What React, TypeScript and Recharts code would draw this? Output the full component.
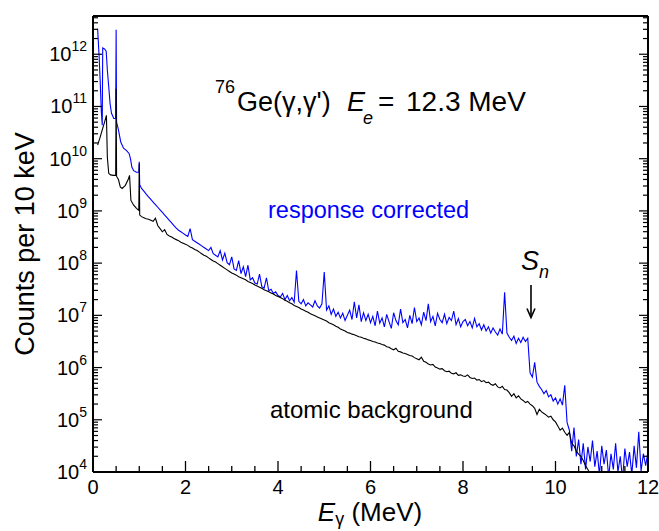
import React from "react";
import { LineChart, Line, XAxis, YAxis, ReferenceLine } from "recharts";

const FONT = '"Liberation Sans", Arial, Helvetica, sans-serif';
const Y_MIN = 1e4;
const Y_MAX = 5.4e12;

// below ~1 MeV the spectra are read point by point: energy (MeV), log10(counts per 10 keV)
const blueLowE = [0.10, 0.13, 0.155, 0.18, 0.2, 0.21, 0.25, 0.285, 0.31, 0.34, 0.37, 0.40, 0.45, 0.49, 0.50, 0.51, 0.55, 0.60, 0.66, 0.72, 0.78, 0.81, 0.84, 0.88, 0.94, 0.99, 1.00, 1.01];
const blueLowLog = [12.49, 12.0, 11.5, 10.9, 10.64, 12.12, 12.1, 12.06, 11.7, 11.38, 11.05, 10.87, 10.77, 10.77, 12.47, 10.7, 10.55, 10.32, 10.2, 10.16, 10.1, 10.0, 9.84, 9.77, 9.74, 9.74, 9.94, 9.5];

const blackLowE = [0.10, 0.15, 0.20, 0.25, 0.29, 0.31, 0.34, 0.38, 0.44, 0.49, 0.50, 0.51, 0.55, 0.59, 0.63, 0.70, 0.76, 0.79, 0.82, 0.88, 0.94, 0.99, 1.00, 1.01];
const blackLowLog = [10.26, 10.4, 10.55, 10.7, 10.83, 10.03, 9.72, 9.69, 9.68, 9.68, 11.34, 9.66, 9.6, 9.46, 9.43, 9.49, 9.6, 9.68, 9.2, 9.11, 9.05, 9.01, 9.91, 8.92];

// above 1 MeV: one value every 50 keV, starting at 1.05 MeV
const binStart = 1.05;
const binWidth = 0.05;

// response corrected, 1.05 .. 12.00 MeV
const blueBinsLog = [
  9.43, 9.38, 9.32, 9.27, 9.22, 9.17, 9.12, 9.07, 9.02, 8.97, 8.92, 8.87, 8.82, 8.77, 8.72, 8.67, 8.63, 8.60, 8.57, 8.54,
  8.51, 8.66, 8.45, 8.42, 8.39, 8.36, 8.33, 8.30, 8.27, 8.24, 8.30, 8.18, 8.15, 8.12, 8.24, 8.06, 8.19, 8.01, 7.97, 8.12,
  7.89, 7.86, 8.05, 7.80, 7.93, 7.74, 7.96, 7.68, 7.72, 7.62, 7.60, 7.79, 7.55, 7.52, 7.72, 7.47, 7.50, 7.42, 7.45, 7.38,
  7.35, 7.42, 7.30, 7.38, 7.28, 7.34, 7.25, 7.86, 7.27, 7.22, 7.30, 7.18, 7.24, 7.20, 7.16, 7.28, 7.18, 7.14, 7.22, 7.83,
  7.10, 7.18, 7.02, 7.12, 6.98, 7.06, 6.95, 7.04, 6.90, 7.00, 7.10, 6.92, 7.26, 6.95, 7.20, 6.88, 7.05, 6.90, 7.02, 6.86,
  6.98, 6.80, 7.08, 6.85, 6.95, 6.78, 7.02, 6.88, 6.75, 7.05, 6.90, 6.82, 7.12, 6.86, 6.92, 6.76, 7.00, 6.84, 7.15, 6.88,
  6.95, 6.82, 7.06, 6.90, 7.22, 6.88, 6.98, 6.80, 7.04, 6.92, 6.86, 7.02, 6.84, 6.96, 6.90, 7.08, 6.82, 6.94, 6.78, 6.88,
  6.92, 6.80, 6.88, 6.76, 6.94, 6.78, 6.84, 6.72, 6.82, 6.70, 6.78, 6.66, 6.76, 6.68, 6.62, 6.74, 6.64, 7.44, 6.66, 6.58,
  6.52, 6.60, 6.46, 6.56, 6.48, 6.58, 6.50, 6.56, 5.90, 5.82, 6.10, 5.72, 5.64, 5.58, 5.50, 5.56, 5.44, 5.48, 5.36, 5.42,
  5.30, 5.40, 5.28, 5.66, 4.95, 4.80, 4.40, 4.85, 4.30, 4.62, 4.15, 4.55, 4.05, 4.48, 4.20, 4.60, 4.10, 4.40, 3.95, 4.50,
  4.15, 4.42, 3.90, 4.35, 4.05, 4.55, 4.00, 4.30, 3.85, 4.45, 4.10, 4.38, 3.95, 4.50, 4.08, 4.77, 4.02, 4.35, 4.12, 4.40,
];

// atomic background, 1.05 .. 11.00 MeV
const blackBinsLog = [
  8.89, 8.87, 8.85, 8.84, 8.82, 8.80, 8.86, 8.72, 8.66, 8.60, 8.64, 8.55, 8.52, 8.50, 8.47, 8.45, 8.43, 8.40, 8.38, 8.36,
  8.34, 8.31, 8.29, 8.26, 8.24, 8.21, 8.18, 8.15, 8.13, 8.10, 8.07, 8.04, 8.02, 7.99, 7.96, 7.93, 7.90, 7.87, 7.84, 7.81,
  7.79, 7.77, 7.74, 7.72, 7.70, 7.68, 7.65, 7.63, 7.61, 7.58, 7.56, 7.54, 7.52, 7.49, 7.47, 7.45, 7.43, 7.41, 7.38, 7.36,
  7.34, 7.32, 7.29, 7.27, 7.24, 7.22, 7.19, 7.17, 7.15, 7.12, 7.10, 7.08, 7.06, 7.03, 7.01, 6.99, 6.97, 6.95, 6.93, 6.91,
  6.89, 6.86, 6.84, 6.82, 6.79, 6.77, 6.74, 6.72, 6.70, 6.67, 6.66, 6.64, 6.63, 6.61, 6.59, 6.58, 6.56, 6.55, 6.53, 6.52,
  6.50, 6.49, 6.47, 6.46, 6.44, 6.43, 6.40, 6.39, 6.36, 6.34, 6.37, 6.31, 6.30, 6.28, 6.27, 6.25, 6.23, 6.22, 6.19, 6.17,
  6.15, 6.20, 6.12, 6.10, 6.07, 6.05, 6.06, 6.01, 5.99, 5.97, 5.98, 5.94, 5.92, 5.93, 5.89, 5.88, 5.90, 5.85, 5.86, 5.84,
  5.83, 5.86, 5.81, 5.79, 5.80, 5.76, 5.77, 5.73, 5.75, 5.71, 5.72, 5.68, 5.66, 5.69, 5.63, 5.61, 5.64, 5.58, 5.57, 5.52,
  5.45, 5.50, 5.42, 5.46, 5.40, 5.37, 5.33, 5.35, 5.30, 5.27, 5.22, 5.10, 5.20, 5.15, 5.12, 5.09, 5.05, 5.07, 5.00, 4.96,
  4.88, 4.80, 4.84, 4.76, 4.70, 4.76, 4.55, 4.50, 4.40, 4.34, 4.30, 4.22, 4.12, 4.05, 3.95, 3.85, 3.75, 3.65, 3.55, 3.45,
];

// axis ticks
const xTicks = [0, 0.5, 1, 1.5, 2, 2.5, 3, 3.5, 4, 4.5, 5, 5.5, 6, 6.5, 7, 7.5, 8, 8.5, 9, 9.5, 10, 10.5, 11, 11.5, 12];
const xLabels = [0, 2, 4, 6, 8, 10, 12];
const decades = [4, 5, 6, 7, 8, 9, 10, 11, 12];
const minorSteps = [1, 2, 3, 4, 5, 6, 7, 8, 9];

// neutron separation energy marker (MeV) and arrow ends (counts)
const snEnergy = 9.47;
const snArrowTop = 3.8e7;
const snArrowTip = 9.1e6;

const yTicks = decades
  .flatMap((d) => minorSteps.map((m) => m * Math.pow(10, d)))
  .filter((t) => t <= Y_MAX);

const lowPoints = (es: number[], logs: number[]) =>
  es.map((E, i) => ({ E, v: Math.pow(10, logs[i]) }));
const binPoints = (logs: number[]) =>
  logs.map((l, i) => ({ E: +(binStart + i * binWidth).toFixed(2), v: Math.pow(10, l) }));

const blueData = [...lowPoints(blueLowE, blueLowLog), ...binPoints(blueBinsLog)];
const blackData = [...lowPoints(blackLowE, blackLowLog), ...binPoints(blackBinsLog)];

const isDecade = (v: number) => {
  const e = Math.log10(v);
  return Math.abs(e - Math.round(e)) < 1e-6;
};

const BottomTick = (props: any) => {
  const { x, y, payload } = props;
  const major = xLabels.includes(payload.value);
  return (
    <g>
      <line x1={x} x2={x} y1={y} y2={y - (major ? 11 : 6)} stroke="#000" strokeWidth={1.3} />
      {major && (
        <text x={x} y={y + 22} textAnchor="middle" fontSize={20} fontFamily={FONT} fill="#000">
          {payload.value}
        </text>
      )}
    </g>
  );
};

const TopTick = (props: any) => {
  const { x, y, payload } = props;
  const major = xLabels.includes(payload.value);
  return <line x1={x} x2={x} y1={y} y2={y + (major ? 11 : 6)} stroke="#000" strokeWidth={1.3} />;
};

const LeftTick = (props: any) => {
  const { x, y, payload } = props;
  const major = isDecade(payload.value);
  return (
    <g>
      <line x1={x} x2={x + (major ? 9 : 5)} y1={y} y2={y} stroke="#000" strokeWidth={1.2} />
      {major && (
        <text x={x - 6} y={y + 7} textAnchor="end" fontSize={20} fontFamily={FONT} fill="#000">
          10
          <tspan dy={-10} fontSize={14}>
            {Math.round(Math.log10(payload.value))}
          </tspan>
        </text>
      )}
    </g>
  );
};

const RightTick = (props: any) => {
  const { x, y, payload } = props;
  const major = isDecade(payload.value);
  return <line x1={x} x2={x - (major ? 9 : 5)} y1={y} y2={y} stroke="#000" strokeWidth={1.2} />;
};

const Arrow = (props: any) => {
  const { x1, y1, x2, y2 } = props;
  return (
    <g>
      <line x1={x1} y1={y1} x2={x2} y2={y2 - 2} stroke="#000" strokeWidth={1.6} />
      <path d={`M${x2 - 4},${y2 - 9} L${x2},${y2} L${x2 + 4},${y2 - 9}`} fill="none" stroke="#000" strokeWidth={1.6} />
    </g>
  );
};

const frame = { stroke: "#000", strokeWidth: 2 };

export default function App() {
  return (
    <div style={{ position: "absolute", left: 0, top: 0, width: 659, height: 531, background: "#fff" }}>
      <LineChart width={659} height={531} margin={{ top: 6, right: 1, bottom: 29, left: 33 }}>
        <XAxis
          xAxisId="b"
          dataKey="E"
          type="number"
          domain={[0, 12]}
          ticks={xTicks}
          interval={0}
          tickSize={0}
          tickMargin={0}
          tickLine={false}
          axisLine={frame}
          tick={BottomTick}
          height={30}
          allowDataOverflow
        />
        <XAxis
          xAxisId="t"
          orientation="top"
          type="number"
          domain={[0, 12]}
          ticks={xTicks}
          interval={0}
          tickSize={0}
          tickMargin={0}
          tickLine={false}
          axisLine={frame}
          tick={TopTick}
          height={10}
          allowDataOverflow
        />
        <YAxis
          yAxisId="l"
          scale="log"
          domain={[Y_MIN, Y_MAX]}
          ticks={yTicks}
          interval={0}
          tickSize={0}
          tickMargin={0}
          tickLine={false}
          axisLine={frame}
          tick={LeftTick}
          width={60}
          allowDataOverflow
        />
        <YAxis
          yAxisId="r"
          orientation="right"
          scale="log"
          domain={[Y_MIN, Y_MAX]}
          ticks={yTicks}
          interval={0}
          tickSize={0}
          tickMargin={0}
          tickLine={false}
          axisLine={frame}
          tick={RightTick}
          width={10}
          allowDataOverflow
        />
        <Line
          xAxisId="b"
          yAxisId="l"
          data={blueData}
          dataKey="v"
          type="linear"
          stroke="#0000ff"
          strokeWidth={1.1}
          dot={false}
          isAnimationActive={false}
        />
        <Line
          xAxisId="b"
          yAxisId="l"
          data={blackData}
          dataKey="v"
          type="linear"
          stroke="#000"
          strokeWidth={1.1}
          dot={false}
          isAnimationActive={false}
        />
        <ReferenceLine
          xAxisId="b"
          yAxisId="l"
          segment={[
            { x: snEnergy, y: snArrowTop },
            { x: snEnergy, y: snArrowTip },
          ]}
          shape={Arrow}
        />
      </LineChart>

      {/* titles and annotations */}
      <svg width={659} height={531} style={{ position: "absolute", left: 0, top: 0, pointerEvents: "none" }} fontFamily={FONT}>
        <text x={-244} y={34} transform="rotate(-90)" textAnchor="middle" fontSize={27} fill="#000">
          Counts per 10 keV
        </text>
        <text x={370} y={521} textAnchor="middle" fontSize={26} fill="#000">
          <tspan fontStyle="italic">E</tspan>
          <tspan fontSize={18} dy={4}>γ</tspan>
          <tspan dy={-4}> (MeV)</tspan>
        </text>

        <text x={215} y={93} fontSize={18} fill="#000">76</text>
        <text x={237} y={111} fontSize={27} fill="#000">Ge(γ,γ')</text>
        <text x={347} y={111} fontSize={27} fontStyle="italic" fill="#000">E</text>
        <text x={363} y={124} fontSize={18} fontStyle="italic" fill="#000">e</text>
        <text x={378} y={111} fontSize={28} fill="#000">=</text>
        <text x={406} y={111} fontSize={28} fill="#000">12.3 MeV</text>

        <text x={268} y={218} fontSize={23.5} fill="#0000ff">response corrected</text>
        <text x={270} y={418} fontSize={24} fill="#000">atomic background</text>

        <text x={521} y={270} fontSize={27} fontStyle="italic" fill="#000">S</text>
        <text x={539} y={278} fontSize={18} fontStyle="italic" fill="#000">n</text>
      </svg>
    </div>
  );
}
